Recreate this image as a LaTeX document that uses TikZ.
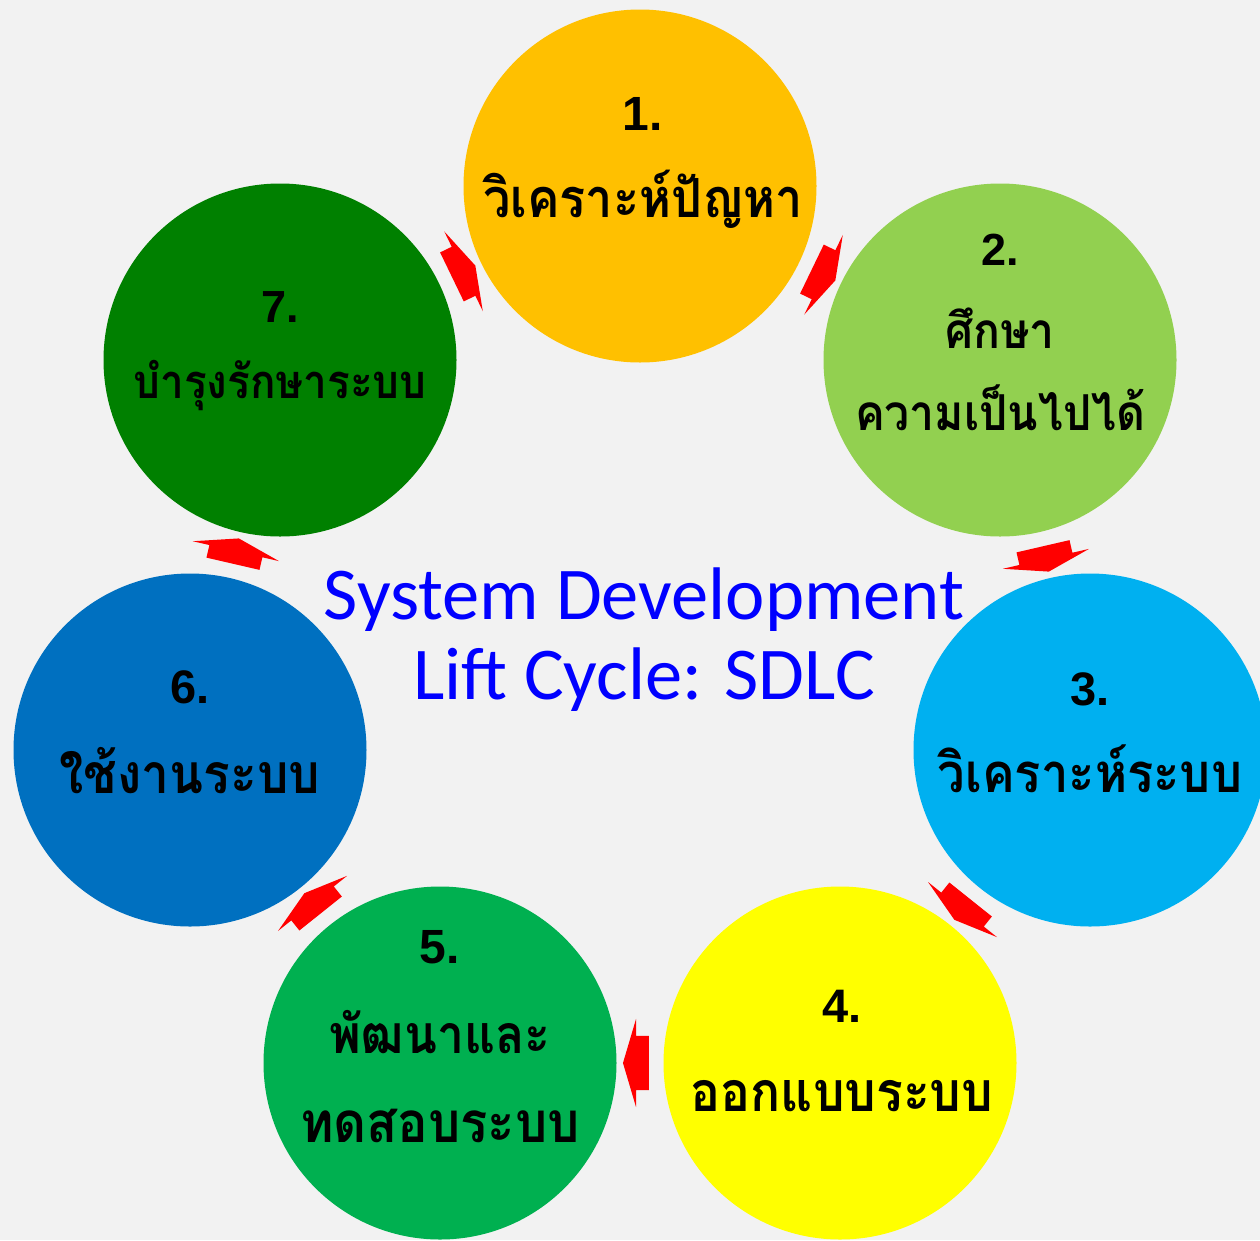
\documentclass[tikz,border=0pt]{standalone}
\usepackage{fontspec}
\usepackage{tikz}
\usetikzlibrary{shapes.arrows}

\newfontfamily\thaifont[Script=Thai, FakeStretch=0.9]{Loma}
\newfontfamily\numfont{Liberation Sans}
\newfontfamily\titlefont{Carlito}

\definecolor{backgray}{HTML}{F2F2F2}
\definecolor{phaseorange}{HTML}{FFC000}
\definecolor{phaselime}{HTML}{92D050}
\definecolor{phasesky}{HTML}{00B0F0}
\definecolor{phaseyellow}{HTML}{FFFF00}
\definecolor{phasegreen}{HTML}{00B050}
\definecolor{phaseblue}{HTML}{0070C0}
\definecolor{phasedark}{HTML}{008000}
\definecolor{titleblue}{HTML}{0000FF}

\begin{document}
\begin{tikzpicture}[x=1pt, y=-1pt,
  phase/.style={circle, minimum size=353pt, inner sep=0pt, draw=none},
  num/.style={anchor=base, inner sep=0pt, font=\numfont\bfseries\fontsize{#1}{#1}\selectfont},
  thai/.style={anchor=base, inner sep=0pt, font=\thaifont\bfseries\fontsize{#1}{#1}\selectfont},
  flow/.style={single arrow, fill=red, draw=none, inner xsep=0pt, inner ysep=27pt,
    minimum height=26pt, single arrow head extend=17pt, single arrow tip angle=147,
    sloped, allow upside down, anchor=center}]

\fill[backgray] (0,0) rectangle (1260,1240);
\useasboundingbox (0,0) rectangle (1260,1240);

% phases
\node[phase, fill=phaseorange] (c1) at (640,186) {};
\node[phase, fill=phaselime]   (c2) at (1000,360) {};
\node[phase, fill=phasesky]    (c3) at (1090,750) {};
\node[phase, fill=phaseyellow] (c4) at (840,1063) {};
\node[phase, fill=phasegreen]  (c5) at (440,1063) {};
\node[phase, fill=phaseblue]   (c6) at (190,750) {};
\node[phase, fill=phasedark]   (c7) at (280,360) {};

% labels
\node[num=48]  (n1) at (643,130) {1.};
\node[thai=54] (l1) at (643,217) {วิเคราะห์ปัญหา};

\node[num=45]  (n2) at (1000,265) {2.};
\node[thai=49.5] (l2a) at (1000,348) {ศึกษา};
\node[thai=49.5] (l2b) at (1000,430) {ความเป็นไปได้};

\node[num=47]  (n3) at (1090,705) {3.};
\node[thai=54.4] (l3) at (1090,792) {วิเคราะห์ระบบ};

\node[num=47]  (n4) at (842,1022) {4.};
\node[thai=55.4] (l4) at (842,1111) {ออกแบบระบบ};

\node[num=48]  (n5) at (440,963) {5.};
\node[thai=53.5] (l5a) at (440,1053) {พัฒนาและ};
\node[thai=56.5] (l5b) at (440,1142) {ทดสอบระบบ};

\node[num=47]  (n6) at (190,703) {6.};
\node[thai=55.2] (l6) at (190,793) {ใช้งานระบบ};

\node[num=45]  (n7) at (280,322) {7.};
\node[thai=47] (l7) at (280,398) {บำรุงรักษาระบบ};

% arrows
\path (c1) -- node[flow] (a12) {} (c2);
\path (c2) -- node[flow] (a23) {} (c3);
\path (c3) -- node[flow] (a34) {} (c4);
\path (c4) -- node[flow] (a45) {} (c5);
\path (c5) -- node[flow] (a56) {} (c6);
\path (c6) -- node[flow] (a67) {} (c7);
\path (c7) -- node[flow] (a71) {} (c1);

\node[align=center, text=titleblue, font=\titlefont\fontsize{74.5}{80}\selectfont] (title) at (644,640)
  {System Development\\Lift Cycle: SDLC};
\end{tikzpicture}
\end{document}
